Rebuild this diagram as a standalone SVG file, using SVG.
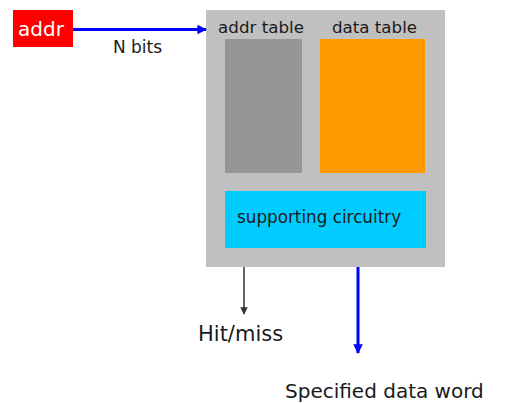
<svg xmlns="http://www.w3.org/2000/svg" width="513" height="403" viewBox="0 0 513 403">
<style>
text{font-family:"DejaVu Sans",Verdana,sans-serif;fill:#1a1a1a}
.blue{stroke:#0000ff;stroke-width:3;fill:none}
.dark{stroke:#333;stroke-width:1.5;fill:none}
</style>
<defs>
<marker id="ab" viewBox="0 0 10 10" refX="9" refY="5" markerWidth="3.2" markerHeight="3.2" orient="auto"><path d="M0,0L10,5L0,10z" fill="#0000ff"/></marker>
<marker id="ad" viewBox="0 0 10 10" refX="9" refY="5" markerWidth="5" markerHeight="5" orient="auto"><path d="M0,0L10,5L0,10z" fill="#333"/></marker>
</defs>
<rect width="513" height="403" fill="#fff"/>
<g id="cache">
<rect x="206" y="10" width="239" height="257" fill="#c0c0c0"/>
</g>
<g id="addrtable">
<rect x="225" y="39" width="77" height="134" fill="#969696"/>
<text x="261" y="33" font-size="16.7" text-anchor="middle">addr table</text>
</g>
<g id="datatable">
<rect x="320" y="39" width="105" height="134" fill="#ff9900"/>
<text x="374.5" y="33" font-size="16.7" text-anchor="middle">data table</text>
</g>
<g id="support">
<rect x="225" y="191" width="201" height="57" fill="#00ccff"/>
<text x="237" y="223" font-size="16.8">supporting circuitry</text>
</g>
<g id="addr">
<rect x="13" y="10" width="60" height="37" fill="#ff0000"/>
<text x="41" y="36" font-size="20" text-anchor="middle" style="fill:#fff">addr</text>
</g>
<g id="connectors">
<line x1="73" y1="29.5" x2="206" y2="29.5" class="blue" marker-end="url(#ab)"/>
<line x1="244" y1="267" x2="244" y2="314" class="dark" marker-end="url(#ad)"/>
<line x1="358" y1="267" x2="358" y2="353" class="blue" marker-end="url(#ab)"/>
</g>
<text x="137.5" y="52.5" font-size="17" text-anchor="middle">N bits</text>
<text x="198" y="340.5" font-size="21">Hit/miss</text>
<text x="285" y="398" font-size="20">Specified data word</text>
</svg>
